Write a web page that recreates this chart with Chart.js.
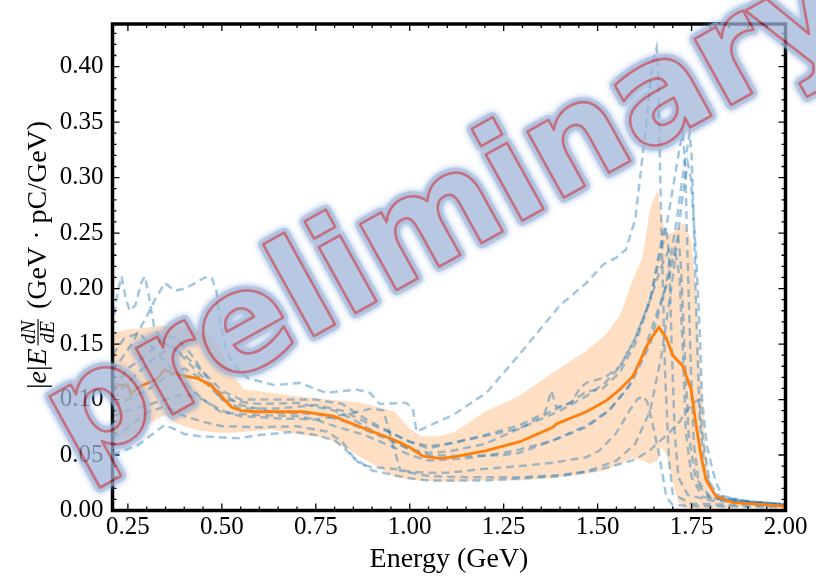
<!DOCTYPE html>
<html>
<head>
<meta charset="utf-8">
<script src="https://cdn.jsdelivr.net/npm/chart.js@4.4.0/dist/chart.umd.min.js"></script>
<style>
  html, body { margin: 0; padding: 0; background: #fff; }
  #wrap { width: 816px; height: 576px; position: relative; }
</style>
</head>
<body>
<div id="wrap"><canvas id="chart" width="816" height="576"></canvas></div>
<script>
// --- DATA ---
const xTicks = [0.25, 0.50, 0.75, 1.00, 1.25, 1.50, 1.75, 2.00];
const yTicks = [0.00, 0.05, 0.10, 0.15, 0.20, 0.25, 0.30, 0.35, 0.40];

// mean spectrum (orange)
const meanE = [0.209,0.215,0.224,0.249,0.258,0.277,0.304,0.326,0.347,0.366,0.402,0.437,0.473,0.499,0.526,0.552,0.588,0.641,0.716,0.796,0.849,0.902,0.956,1.000,1.035,1.080,1.115,1.204,1.293,1.381,1.390,1.470,1.523,1.559,1.594,1.638,1.663,1.682,1.700,1.727,1.749,1.762,1.776,1.789,1.815,1.860,1.913,2.000];
const meanV = [0.108,0.109,0.113,0.113,0.105,0.111,0.115,0.118,0.127,0.124,0.121,0.119,0.112,0.103,0.093,0.090,0.089,0.089,0.089,0.085,0.078,0.071,0.064,0.057,0.049,0.047,0.048,0.054,0.062,0.075,0.078,0.089,0.099,0.109,0.121,0.153,0.165,0.156,0.140,0.130,0.109,0.077,0.048,0.027,0.013,0.007,0.006,0.004];

// spread band (shaded)
const bandE  = [0.209,0.25,0.28,0.30,0.33,0.35,0.37,0.40,0.44,0.47,0.50,0.53,0.56,0.63,0.70,0.78,0.82,0.87,0.92,0.96,1.00,1.03,1.08,1.12,1.20,1.29,1.38,1.47,1.52,1.56,1.59,1.62,1.64,1.66,1.67,1.683,1.70,1.715,1.731,1.749,1.762,1.771,1.788,1.798,1.816,1.85,1.90,2.00];
const bandHi = [0.160,0.163,0.164,0.165,0.166,0.166,0.166,0.165,0.162,0.159,0.141,0.121,0.109,0.106,0.103,0.100,0.099,0.097,0.093,0.089,0.074,0.067,0.067,0.071,0.089,0.103,0.124,0.144,0.158,0.176,0.205,0.229,0.273,0.289,0.265,0.249,0.250,0.255,0.259,0.243,0.199,0.141,0.053,0.027,0.012,0.010,0.008,0.006];
const bandLo = [0.062,0.066,0.072,0.077,0.083,0.086,0.080,0.076,0.072,0.071,0.070,0.070,0.071,0.073,0.069,0.065,0.058,0.048,0.038,0.030,0.028,0.027,0.026,0.026,0.027,0.027,0.029,0.033,0.036,0.042,0.047,0.045,0.042,0.045,0.058,0.050,0.025,0.008,0.002,0.002,0.002,0.002,0.002,0.002,0.002,0.003,0.003,0.002];

// individual shots (dashed)
const shot1 = [[0.209,0.125],[0.26,0.15],[0.30,0.175],[0.322,0.19],[0.348,0.205],[0.375,0.198],[0.40,0.20],[0.43,0.205],[0.455,0.21],[0.473,0.21],[0.486,0.197],[0.495,0.17],[0.512,0.144],[0.535,0.13],[0.57,0.119],[0.64,0.113],[0.707,0.115],[0.778,0.106],[0.858,0.109],[0.894,0.106],[0.92,0.096],[0.99,0.097],[1.008,0.092],[1.018,0.071],[1.03,0.073],[1.115,0.086],[1.204,0.106],[1.293,0.141],[1.40,0.185],[1.47,0.205],[1.516,0.222],[1.55,0.228],[1.575,0.235],[1.60,0.262],[1.613,0.30],[1.63,0.35],[1.645,0.40],[1.657,0.417],[1.661,0.40],[1.666,0.31],[1.672,0.226],[1.68,0.12],[1.69,0.045],[1.70,0.015],[1.75,0.006],[2.0,0.004]];
const shot2 = [[0.209,0.165],[0.222,0.195],[0.233,0.211],[0.245,0.19],[0.255,0.18],[0.27,0.185],[0.285,0.205],[0.295,0.211],[0.305,0.195],[0.32,0.165],[0.35,0.15],[0.40,0.14],[0.45,0.125],[0.50,0.108],[0.55,0.10],[0.65,0.10],[0.75,0.10],[0.82,0.096],[0.88,0.083],[0.95,0.07],[1.0,0.062],[1.05,0.058],[1.115,0.061],[1.20,0.068],[1.293,0.077],[1.36,0.088],[1.377,0.108],[1.39,0.093],[1.43,0.097],[1.452,0.11],[1.47,0.115],[1.52,0.12],[1.56,0.13],[1.60,0.155],[1.64,0.19],[1.665,0.235],[1.676,0.252],[1.683,0.255],[1.69,0.23],[1.697,0.15],[1.705,0.07],[1.715,0.03],[1.74,0.014],[1.80,0.009],[2.0,0.005]];
const shot3 = [[0.209,0.095],[0.25,0.10],[0.30,0.108],[0.35,0.12],[0.40,0.128],[0.45,0.118],[0.50,0.10],[0.55,0.092],[0.65,0.092],[0.75,0.095],[0.82,0.09],[0.88,0.08],[0.95,0.07],[1.0,0.062],[1.05,0.056],[1.115,0.061],[1.20,0.067],[1.293,0.074],[1.38,0.09],[1.426,0.097],[1.47,0.107],[1.514,0.11],[1.56,0.125],[1.60,0.15],[1.64,0.19],[1.68,0.25],[1.705,0.30],[1.72,0.33],[1.727,0.34],[1.733,0.31],[1.74,0.22],[1.748,0.13],[1.756,0.06],[1.77,0.022],[1.80,0.011],[1.9,0.007],[2.0,0.005]];
const shot4 = [[0.209,0.10],[0.25,0.115],[0.28,0.125],[0.33,0.14],[0.37,0.148],[0.42,0.13],[0.48,0.11],[0.55,0.095],[0.65,0.088],[0.75,0.087],[0.83,0.08],[0.90,0.07],[0.95,0.063],[1.0,0.055],[1.05,0.05],[1.15,0.049],[1.25,0.05],[1.293,0.052],[1.38,0.063],[1.47,0.0765],[1.53,0.09],[1.59,0.115],[1.64,0.15],[1.68,0.2],[1.71,0.26],[1.73,0.31],[1.745,0.34],[1.75,0.32],[1.757,0.25],[1.764,0.16],[1.772,0.08],[1.785,0.035],[1.81,0.015],[1.85,0.009],[2.0,0.005]];
const shot5 = [[0.209,0.085],[0.25,0.09],[0.30,0.095],[0.35,0.10],[0.40,0.105],[0.45,0.10],[0.50,0.09],[0.55,0.085],[0.65,0.083],[0.75,0.082],[0.85,0.088],[0.90,0.092],[0.93,0.09],[0.975,0.036],[1.05,0.031],[1.15,0.03],[1.293,0.030],[1.40,0.032],[1.47,0.035],[1.55,0.045],[1.60,0.06],[1.64,0.09],[1.67,0.14],[1.70,0.21],[1.725,0.28],[1.74,0.313],[1.748,0.30],[1.762,0.23],[1.772,0.16],[1.778,0.10],[1.79,0.06],[1.80,0.045],[1.815,0.025],[1.833,0.013],[1.9,0.008],[2.0,0.006]];
const shot6 = [[0.209,0.05],[0.215,0.051],[0.277,0.059],[0.348,0.077],[0.37,0.074],[0.40,0.069],[0.44,0.067],[0.543,0.065],[0.60,0.068],[0.69,0.071],[0.75,0.068],[0.80,0.063],[0.823,0.057],[0.867,0.042],[0.90,0.039],[0.956,0.0377],[1.0,0.035],[1.05,0.034],[1.10,0.034],[1.204,0.0377],[1.293,0.040],[1.38,0.043],[1.47,0.048],[1.505,0.054],[1.55,0.07],[1.585,0.09],[1.605,0.10],[1.62,0.103],[1.632,0.098],[1.647,0.077],[1.665,0.048],[1.683,0.012],[1.70,0.005],[1.75,0.004],[2.0,0.003]];
const shot7 = [[0.209,0.065],[0.25,0.075],[0.30,0.088],[0.35,0.094],[0.40,0.085],[0.45,0.08],[0.50,0.076],[0.60,0.075],[0.70,0.076],[0.78,0.071],[0.82,0.062],[0.85,0.048],[0.90,0.036],[1.0,0.029],[1.05,0.027],[1.2,0.027],[1.3,0.029],[1.4,0.031],[1.505,0.037],[1.55,0.041],[1.60,0.046],[1.638,0.054],[1.667,0.063],[1.69,0.070],[1.718,0.080],[1.753,0.097],[1.771,0.100],[1.78,0.065],[1.798,0.025],[1.824,0.013],[1.9,0.008],[2.0,0.005]];
const shot8 = [[0.209,0.11],[0.25,0.128],[0.30,0.14],[0.35,0.158],[0.38,0.155],[0.42,0.14],[0.46,0.12],[0.50,0.10],[0.6,0.096],[0.7,0.097],[0.8,0.09],[0.85,0.082],[0.9,0.072],[0.95,0.064],[1.0,0.055],[1.05,0.052],[1.1,0.053],[1.2,0.06],[1.293,0.074],[1.4,0.09],[1.47,0.103],[1.52,0.115],[1.56,0.13],[1.60,0.155],[1.64,0.19],[1.67,0.22],[1.69,0.235],[1.709,0.229],[1.718,0.21],[1.726,0.15],[1.735,0.07],[1.75,0.03],[1.78,0.012],[2.0,0.005]];
const shot9 = [[0.209,0.14],[0.24,0.155],[0.28,0.16],[0.32,0.145],[0.36,0.13],[0.40,0.115],[0.45,0.10],[0.50,0.088],[0.6,0.086],[0.7,0.085],[0.75,0.082],[0.8,0.076],[0.88,0.068],[0.95,0.058],[1.0,0.05],[1.05,0.045],[1.15,0.047],[1.25,0.052],[1.293,0.055],[1.38,0.063],[1.47,0.075],[1.53,0.09],[1.58,0.11],[1.62,0.14],[1.66,0.18],[1.69,0.21],[1.705,0.235],[1.715,0.245],[1.722,0.22],[1.732,0.14],[1.742,0.07],[1.76,0.03],[1.8,0.012],[2.0,0.005]];
const shots = [shot1, shot2, shot3, shot4, shot5, shot6, shot7, shot8, shot9];

// --- STYLE ---
const SERIF = '"Liberation Serif", "Times New Roman", serif';
const ORANGE = '#ff7f0e';
const BAND = 'rgba(255,127,14,0.25)';
const SHOT = 'rgba(31,119,180,0.42)';

const toXY = (xs, ys) => xs.map((x, i) => ({ x, y: ys[i] }));

const datasets = [
  { data: toXY(bandE, bandLo), borderWidth: 0, pointRadius: 0, showLine: true, fill: false, order: 3 },
  { data: toXY(bandE, bandHi), borderWidth: 0, pointRadius: 0, showLine: true, fill: '-1', backgroundColor: BAND, order: 2 },
  ...shots.map(s => ({
    data: s.map(p => ({ x: p[0], y: p[1] })),
    borderColor: SHOT, borderWidth: 2.5, borderDash: [8, 5], pointRadius: 0, showLine: true, fill: false, order: 1
  })),
  { data: toXY(meanE, meanV), borderColor: ORANGE, borderWidth: 2.8, pointRadius: 0, showLine: true, fill: false, order: 0 }
];

// frame with inward ticks on all four sides
const frameTicks = {
  id: 'frameTicks',
  afterDatasetsDraw(chart) {
    const { ctx, chartArea: a, scales: { x, y } } = chart;
    ctx.save();
    ctx.strokeStyle = '#000';
    ctx.lineWidth = 1.3;
    const xt = (v, len) => {
      const px = x.getPixelForValue(v);
      ctx.beginPath();
      ctx.moveTo(px, a.bottom); ctx.lineTo(px, a.bottom - len);
      ctx.moveTo(px, a.top); ctx.lineTo(px, a.top + len);
      ctx.stroke();
    };
    const yt = (v, len) => {
      const py = y.getPixelForValue(v);
      ctx.beginPath();
      ctx.moveTo(a.left, py); ctx.lineTo(a.left + len, py);
      ctx.moveTo(a.right, py); ctx.lineTo(a.right - len, py);
      ctx.stroke();
    };
    for (let k = 5; k <= 40; k++) { const v = k * 0.05; if (v >= x.min && v <= x.max) xt(v, k % 5 === 0 ? 7 : 4); }
    for (let k = 1; k <= 43; k++) { const v = k * 0.01; if (v <= y.max) yt(v, k % 5 === 0 ? 7 : 4); }
    ctx.lineWidth = 3.5;
    ctx.strokeRect(a.left, a.top, a.right - a.left, a.bottom - a.top);
    ctx.restore();
  },
  afterDraw(chart) {
    drawYTitle(chart.ctx);
    drawWatermark(chart.ctx);
  }
};

function drawYTitle(ctx) {
  const fs = 28, sm = 20;
  ctx.save();
  ctx.fillStyle = '#000';
  ctx.font = `${fs}px ${SERIF}`;
  const wBar = ctx.measureText('|').width;
  const unit = '(GeV \u00b7 pC/GeV)';
  const wUnit = ctx.measureText(unit).width;
  ctx.font = `italic ${fs}px ${SERIF}`;
  const we = ctx.measureText('e').width, wE = ctx.measureText('E').width;
  ctx.font = `italic ${sm}px ${SERIF}`;
  const wN = ctx.measureText('dN').width, wD = ctx.measureText('dE').width;
  const fw = Math.max(wN, wD) + 3;
  const total = 2 * wBar + we + wE + 3 + fw + 10 + wUnit;
  ctx.translate(46, 255 + total / 2);
  ctx.rotate(-Math.PI / 2);
  ctx.textBaseline = 'alphabetic';
  let cx = 0;
  ctx.font = `${fs}px ${SERIF}`; ctx.fillText('|', cx, 0); cx += wBar;
  ctx.font = `italic ${fs}px ${SERIF}`; ctx.fillText('e', cx, 0); cx += we;
  ctx.font = `${fs}px ${SERIF}`; ctx.fillText('|', cx, 0); cx += wBar;
  ctx.font = `italic ${fs}px ${SERIF}`; ctx.fillText('E', cx, 0); cx += wE + 3;
  ctx.font = `italic ${sm}px ${SERIF}`;
  ctx.textAlign = 'center';
  ctx.fillText('dN', cx + fw / 2, -11);
  ctx.fillText('dE', cx + fw / 2, 8);
  ctx.fillRect(cx, -8.5, fw, 1.1);
  ctx.textAlign = 'left';
  cx += fw + 10;
  ctx.font = `${fs}px ${SERIF}`; ctx.fillText(unit, cx, 0);
  ctx.restore();
}

function drawWatermark(ctx) {
  const off = document.createElement('canvas');
  off.width = 816; off.height = 576;
  const o = off.getContext('2d');
  o.translate(76, 468);
  o.rotate(-29 * Math.PI / 180);
  o.font = 'bold 138px "DejaVu Sans", sans-serif';
  o.textBaseline = 'alphabetic';
  o.lineJoin = 'round';
  o.shadowColor = 'rgba(110,150,210,0.9)';
  o.shadowBlur = 6;
  o.strokeStyle = 'rgb(160,182,216)';
  o.lineWidth = 10;
  o.strokeText('preliminary', 0, 0);
  o.fillStyle = 'rgb(160,182,216)';
  o.fillText('preliminary', 0, 0);
  o.shadowBlur = 0;
  o.strokeStyle = 'rgb(176,64,86)';
  o.lineWidth = 2.6;
  o.strokeText('preliminary', 0, 0);
  ctx.save();
  ctx.globalAlpha = 0.75;
  ctx.drawImage(off, 0, 0);
  ctx.restore();
}

new Chart(document.getElementById('chart'), {
  type: 'scatter',
  data: { datasets },
  options: {
    responsive: false,
    animation: false,
    layout: { padding: { left: 0, top: 10.5, right: 30.5, bottom: 0 } },
    plugins: { legend: { display: false }, tooltip: { enabled: false } },
    elements: { line: { tension: 0 } },
    scales: {
      x: {
        type: 'linear', min: 0.209, max: 2.0,
        afterBuildTicks: s => { s.ticks = xTicks.map(v => ({ value: v })); },
        afterFit: s => { s.height = 65.5; },
        grid: { display: false, drawTicks: false },
        border: { display: false },
        ticks: { padding: 2, color: '#000', font: { family: SERIF, size: 25 }, maxRotation: 0, autoSkip: false,
          callback: v => Number(v).toFixed(2) },
        title: { display: true, text: 'Energy (GeV)', color: '#000', font: { family: SERIF, size: 28 }, padding: { top: 0, bottom: 0 } }
      },
      y: {
        type: 'linear', min: 0, max: 0.4384,
        afterBuildTicks: s => { s.ticks = yTicks.map(v => ({ value: v })); },
        afterFit: s => { s.width = 112.5; },
        grid: { display: false, drawTicks: false },
        border: { display: false },
        ticks: { padding: 9, color: '#000', font: { family: SERIF, size: 25 }, autoSkip: false,
          callback: v => Number(v).toFixed(2) }
      }
    }
  },
  plugins: [frameTicks]
});
</script>
</body>
</html>
